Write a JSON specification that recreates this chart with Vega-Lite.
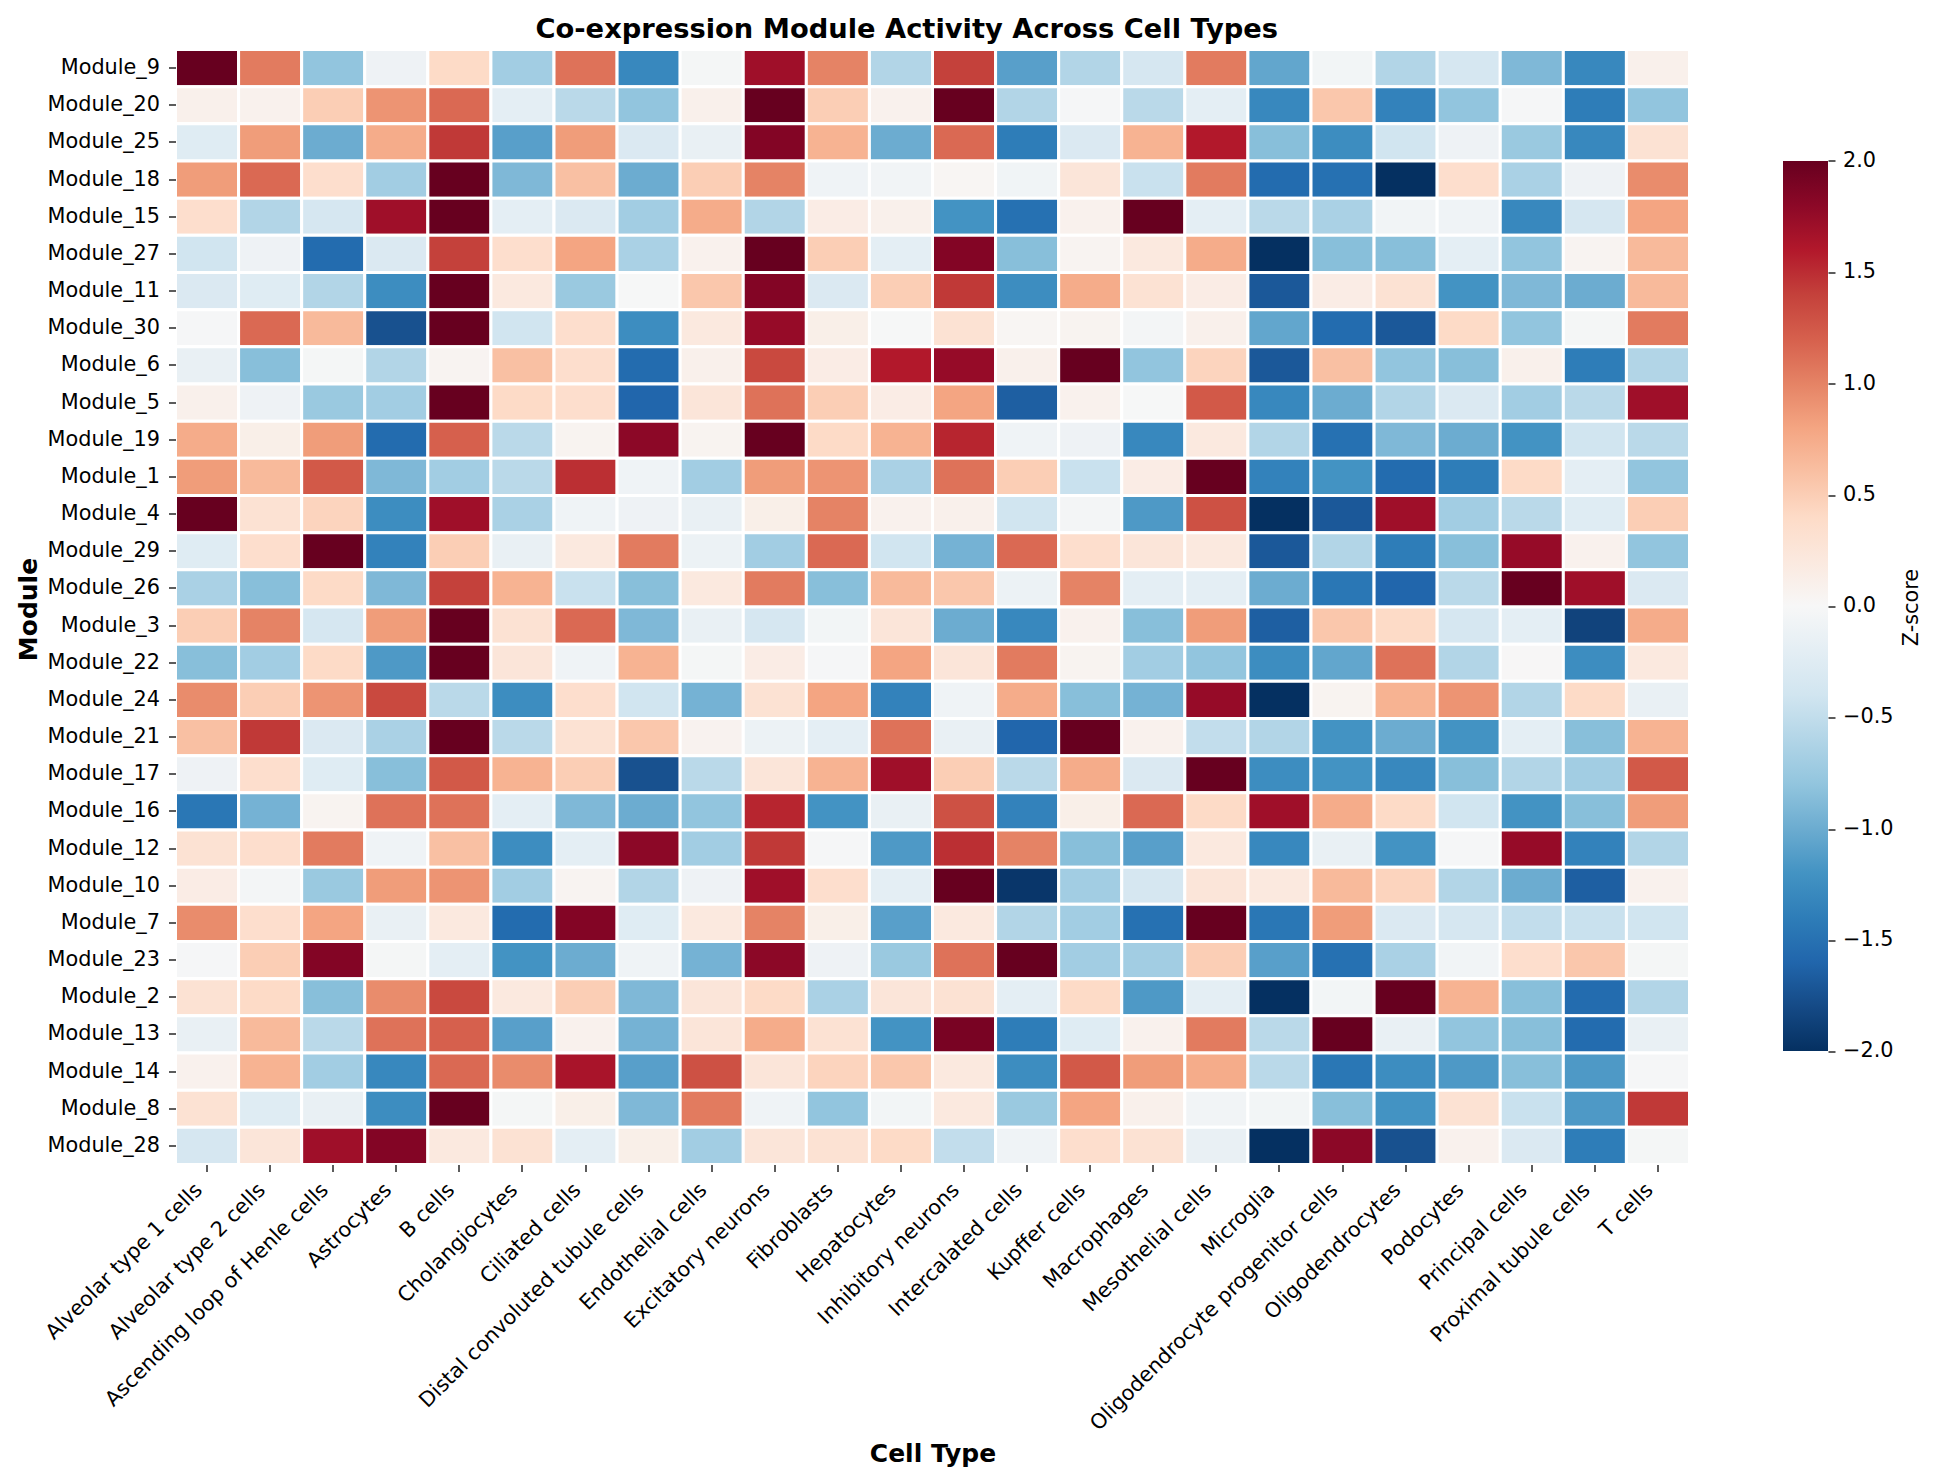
{"$schema":"https://vega.github.io/schema/vega-lite/v6.json","width":1514,"height":1115,"autosize":"none","padding":{"left":175.5,"top":49.5,"right":246.5,"bottom":316.5},"background":"white","config":{"font":"DejaVu Sans","view":{"stroke":null}},"title":{"text":"Co-expression Module Activity Across Cell Types","font":"DejaVu Sans","fontSize":27.3,"fontWeight":"bold","color":"black","anchor":"start","frame":"group","dx":360,"offset":5},
"data":{"values":[
{"m":"Module_9","c":"Alveolar type 1 cells","z":2.0},{"m":"Module_9","c":"Alveolar type 2 cells","z":1.05},{"m":"Module_9","c":"Ascending loop of Henle cells","z":-0.8},{"m":"Module_9","c":"Astrocytes","z":-0.1},{"m":"Module_9","c":"B cells","z":0.4},{"m":"Module_9","c":"Cholangiocytes","z":-0.7},{"m":"Module_9","c":"Ciliated cells","z":1.1},{"m":"Module_9","c":"Distal convoluted tubule cells","z":-1.3},{"m":"Module_9","c":"Endothelial cells","z":-0.03},{"m":"Module_9","c":"Excitatory neurons","z":1.7},{"m":"Module_9","c":"Fibroblasts","z":1.0},{"m":"Module_9","c":"Hepatocytes","z":-0.6},{"m":"Module_9","c":"Inhibitory neurons","z":1.4},{"m":"Module_9","c":"Intercalated cells","z":-1.1},{"m":"Module_9","c":"Kupffer cells","z":-0.6},{"m":"Module_9","c":"Macrophages","z":-0.35},{"m":"Module_9","c":"Mesothelial cells","z":1.05},{"m":"Module_9","c":"Microglia","z":-1.05},{"m":"Module_9","c":"Oligodendrocyte progenitor cells","z":-0.05},{"m":"Module_9","c":"Oligodendrocytes","z":-0.6},{"m":"Module_9","c":"Podocytes","z":-0.35},{"m":"Module_9","c":"Principal cells","z":-0.9},{"m":"Module_9","c":"Proximal tubule cells","z":-1.3},{"m":"Module_9","c":"T cells","z":0.1},
{"m":"Module_20","c":"Alveolar type 1 cells","z":0.1},{"m":"Module_20","c":"Alveolar type 2 cells","z":0.08},{"m":"Module_20","c":"Ascending loop of Henle cells","z":0.5},{"m":"Module_20","c":"Astrocytes","z":0.9},{"m":"Module_20","c":"B cells","z":1.15},{"m":"Module_20","c":"Cholangiocytes","z":-0.2},{"m":"Module_20","c":"Ciliated cells","z":-0.55},{"m":"Module_20","c":"Distal convoluted tubule cells","z":-0.8},{"m":"Module_20","c":"Endothelial cells","z":0.1},{"m":"Module_20","c":"Excitatory neurons","z":2.0},{"m":"Module_20","c":"Fibroblasts","z":0.5},{"m":"Module_20","c":"Hepatocytes","z":0.08},{"m":"Module_20","c":"Inhibitory neurons","z":2.0},{"m":"Module_20","c":"Intercalated cells","z":-0.6},{"m":"Module_20","c":"Kupffer cells","z":-0.02},{"m":"Module_20","c":"Macrophages","z":-0.55},{"m":"Module_20","c":"Mesothelial cells","z":-0.2},{"m":"Module_20","c":"Microglia","z":-1.3},{"m":"Module_20","c":"Oligodendrocyte progenitor cells","z":0.55},{"m":"Module_20","c":"Oligodendrocytes","z":-1.35},{"m":"Module_20","c":"Podocytes","z":-0.8},{"m":"Module_20","c":"Principal cells","z":-0.02},{"m":"Module_20","c":"Proximal tubule cells","z":-1.4},{"m":"Module_20","c":"T cells","z":-0.8},
{"m":"Module_25","c":"Alveolar type 1 cells","z":-0.25},{"m":"Module_25","c":"Alveolar type 2 cells","z":0.85},{"m":"Module_25","c":"Ascending loop of Henle cells","z":-1.0},{"m":"Module_25","c":"Astrocytes","z":0.75},{"m":"Module_25","c":"B cells","z":1.45},{"m":"Module_25","c":"Cholangiocytes","z":-1.1},{"m":"Module_25","c":"Ciliated cells","z":0.85},{"m":"Module_25","c":"Distal convoluted tubule cells","z":-0.3},{"m":"Module_25","c":"Endothelial cells","z":-0.15},{"m":"Module_25","c":"Excitatory neurons","z":1.85},{"m":"Module_25","c":"Fibroblasts","z":0.7},{"m":"Module_25","c":"Hepatocytes","z":-1.0},{"m":"Module_25","c":"Inhibitory neurons","z":1.15},{"m":"Module_25","c":"Intercalated cells","z":-1.4},{"m":"Module_25","c":"Kupffer cells","z":-0.3},{"m":"Module_25","c":"Macrophages","z":0.7},{"m":"Module_25","c":"Mesothelial cells","z":1.6},{"m":"Module_25","c":"Microglia","z":-0.85},{"m":"Module_25","c":"Oligodendrocyte progenitor cells","z":-1.25},{"m":"Module_25","c":"Oligodendrocytes","z":-0.4},{"m":"Module_25","c":"Podocytes","z":-0.1},{"m":"Module_25","c":"Principal cells","z":-0.75},{"m":"Module_25","c":"Proximal tubule cells","z":-1.3},{"m":"Module_25","c":"T cells","z":0.3},
{"m":"Module_18","c":"Alveolar type 1 cells","z":0.85},{"m":"Module_18","c":"Alveolar type 2 cells","z":1.15},{"m":"Module_18","c":"Ascending loop of Henle cells","z":0.35},{"m":"Module_18","c":"Astrocytes","z":-0.7},{"m":"Module_18","c":"B cells","z":2.0},{"m":"Module_18","c":"Cholangiocytes","z":-0.9},{"m":"Module_18","c":"Ciliated cells","z":0.6},{"m":"Module_18","c":"Distal convoluted tubule cells","z":-1.0},{"m":"Module_18","c":"Endothelial cells","z":0.5},{"m":"Module_18","c":"Excitatory neurons","z":1.0},{"m":"Module_18","c":"Fibroblasts","z":-0.08},{"m":"Module_18","c":"Hepatocytes","z":-0.06},{"m":"Module_18","c":"Inhibitory neurons","z":0.03},{"m":"Module_18","c":"Intercalated cells","z":-0.07},{"m":"Module_18","c":"Kupffer cells","z":0.25},{"m":"Module_18","c":"Macrophages","z":-0.45},{"m":"Module_18","c":"Mesothelial cells","z":1.05},{"m":"Module_18","c":"Microglia","z":-1.55},{"m":"Module_18","c":"Oligodendrocyte progenitor cells","z":-1.5},{"m":"Module_18","c":"Oligodendrocytes","z":-2.0},{"m":"Module_18","c":"Podocytes","z":0.35},{"m":"Module_18","c":"Principal cells","z":-0.65},{"m":"Module_18","c":"Proximal tubule cells","z":-0.1},{"m":"Module_18","c":"T cells","z":0.95},
{"m":"Module_15","c":"Alveolar type 1 cells","z":0.35},{"m":"Module_15","c":"Alveolar type 2 cells","z":-0.6},{"m":"Module_15","c":"Ascending loop of Henle cells","z":-0.35},{"m":"Module_15","c":"Astrocytes","z":1.7},{"m":"Module_15","c":"B cells","z":2.0},{"m":"Module_15","c":"Cholangiocytes","z":-0.2},{"m":"Module_15","c":"Ciliated cells","z":-0.3},{"m":"Module_15","c":"Distal convoluted tubule cells","z":-0.7},{"m":"Module_15","c":"Endothelial cells","z":0.75},{"m":"Module_15","c":"Excitatory neurons","z":-0.6},{"m":"Module_15","c":"Fibroblasts","z":0.15},{"m":"Module_15","c":"Hepatocytes","z":0.1},{"m":"Module_15","c":"Inhibitory neurons","z":-1.2},{"m":"Module_15","c":"Intercalated cells","z":-1.5},{"m":"Module_15","c":"Kupffer cells","z":0.08},{"m":"Module_15","c":"Macrophages","z":2.0},{"m":"Module_15","c":"Mesothelial cells","z":-0.2},{"m":"Module_15","c":"Microglia","z":-0.55},{"m":"Module_15","c":"Oligodendrocyte progenitor cells","z":-0.65},{"m":"Module_15","c":"Oligodendrocytes","z":-0.06},{"m":"Module_15","c":"Podocytes","z":-0.08},{"m":"Module_15","c":"Principal cells","z":-1.3},{"m":"Module_15","c":"Proximal tubule cells","z":-0.35},{"m":"Module_15","c":"T cells","z":0.8},
{"m":"Module_27","c":"Alveolar type 1 cells","z":-0.4},{"m":"Module_27","c":"Alveolar type 2 cells","z":-0.1},{"m":"Module_27","c":"Ascending loop of Henle cells","z":-1.55},{"m":"Module_27","c":"Astrocytes","z":-0.3},{"m":"Module_27","c":"B cells","z":1.4},{"m":"Module_27","c":"Cholangiocytes","z":0.35},{"m":"Module_27","c":"Ciliated cells","z":0.8},{"m":"Module_27","c":"Distal convoluted tubule cells","z":-0.65},{"m":"Module_27","c":"Endothelial cells","z":0.08},{"m":"Module_27","c":"Excitatory neurons","z":2.0},{"m":"Module_27","c":"Fibroblasts","z":0.5},{"m":"Module_27","c":"Hepatocytes","z":-0.2},{"m":"Module_27","c":"Inhibitory neurons","z":1.85},{"m":"Module_27","c":"Intercalated cells","z":-0.85},{"m":"Module_27","c":"Kupffer cells","z":0.05},{"m":"Module_27","c":"Macrophages","z":0.2},{"m":"Module_27","c":"Mesothelial cells","z":0.75},{"m":"Module_27","c":"Microglia","z":-2.0},{"m":"Module_27","c":"Oligodendrocyte progenitor cells","z":-0.85},{"m":"Module_27","c":"Oligodendrocytes","z":-0.85},{"m":"Module_27","c":"Podocytes","z":-0.2},{"m":"Module_27","c":"Principal cells","z":-0.8},{"m":"Module_27","c":"Proximal tubule cells","z":0.05},{"m":"Module_27","c":"T cells","z":0.65},
{"m":"Module_11","c":"Alveolar type 1 cells","z":-0.3},{"m":"Module_11","c":"Alveolar type 2 cells","z":-0.25},{"m":"Module_11","c":"Ascending loop of Henle cells","z":-0.6},{"m":"Module_11","c":"Astrocytes","z":-1.25},{"m":"Module_11","c":"B cells","z":2.0},{"m":"Module_11","c":"Cholangiocytes","z":0.2},{"m":"Module_11","c":"Ciliated cells","z":-0.75},{"m":"Module_11","c":"Distal convoluted tubule cells","z":-0.01},{"m":"Module_11","c":"Endothelial cells","z":0.55},{"m":"Module_11","c":"Excitatory neurons","z":1.85},{"m":"Module_11","c":"Fibroblasts","z":-0.3},{"m":"Module_11","c":"Hepatocytes","z":0.5},{"m":"Module_11","c":"Inhibitory neurons","z":1.45},{"m":"Module_11","c":"Intercalated cells","z":-1.25},{"m":"Module_11","c":"Kupffer cells","z":0.75},{"m":"Module_11","c":"Macrophages","z":0.3},{"m":"Module_11","c":"Mesothelial cells","z":0.15},{"m":"Module_11","c":"Microglia","z":-1.7},{"m":"Module_11","c":"Oligodendrocyte progenitor cells","z":0.15},{"m":"Module_11","c":"Oligodendrocytes","z":0.3},{"m":"Module_11","c":"Podocytes","z":-1.2},{"m":"Module_11","c":"Principal cells","z":-0.9},{"m":"Module_11","c":"Proximal tubule cells","z":-1.0},{"m":"Module_11","c":"T cells","z":0.65},
{"m":"Module_30","c":"Alveolar type 1 cells","z":-0.02},{"m":"Module_30","c":"Alveolar type 2 cells","z":1.15},{"m":"Module_30","c":"Ascending loop of Henle cells","z":0.65},{"m":"Module_30","c":"Astrocytes","z":-1.75},{"m":"Module_30","c":"B cells","z":2.0},{"m":"Module_30","c":"Cholangiocytes","z":-0.4},{"m":"Module_30","c":"Ciliated cells","z":0.35},{"m":"Module_30","c":"Distal convoluted tubule cells","z":-1.25},{"m":"Module_30","c":"Endothelial cells","z":0.2},{"m":"Module_30","c":"Excitatory neurons","z":1.75},{"m":"Module_30","c":"Fibroblasts","z":0.12},{"m":"Module_30","c":"Hepatocytes","z":-0.01},{"m":"Module_30","c":"Inhibitory neurons","z":0.3},{"m":"Module_30","c":"Intercalated cells","z":0.03},{"m":"Module_30","c":"Kupffer cells","z":0.06},{"m":"Module_30","c":"Macrophages","z":-0.04},{"m":"Module_30","c":"Mesothelial cells","z":0.1},{"m":"Module_30","c":"Microglia","z":-1.05},{"m":"Module_30","c":"Oligodendrocyte progenitor cells","z":-1.55},{"m":"Module_30","c":"Oligodendrocytes","z":-1.7},{"m":"Module_30","c":"Podocytes","z":0.4},{"m":"Module_30","c":"Principal cells","z":-0.8},{"m":"Module_30","c":"Proximal tubule cells","z":-0.03},{"m":"Module_30","c":"T cells","z":1.05},
{"m":"Module_6","c":"Alveolar type 1 cells","z":-0.15},{"m":"Module_6","c":"Alveolar type 2 cells","z":-0.85},{"m":"Module_6","c":"Ascending loop of Henle cells","z":-0.03},{"m":"Module_6","c":"Astrocytes","z":-0.6},{"m":"Module_6","c":"B cells","z":0.05},{"m":"Module_6","c":"Cholangiocytes","z":0.6},{"m":"Module_6","c":"Ciliated cells","z":0.35},{"m":"Module_6","c":"Distal convoluted tubule cells","z":-1.55},{"m":"Module_6","c":"Endothelial cells","z":0.1},{"m":"Module_6","c":"Excitatory neurons","z":1.35},{"m":"Module_6","c":"Fibroblasts","z":0.15},{"m":"Module_6","c":"Hepatocytes","z":1.6},{"m":"Module_6","c":"Inhibitory neurons","z":1.75},{"m":"Module_6","c":"Intercalated cells","z":0.1},{"m":"Module_6","c":"Kupffer cells","z":2.0},{"m":"Module_6","c":"Macrophages","z":-0.8},{"m":"Module_6","c":"Mesothelial cells","z":0.45},{"m":"Module_6","c":"Microglia","z":-1.7},{"m":"Module_6","c":"Oligodendrocyte progenitor cells","z":0.6},{"m":"Module_6","c":"Oligodendrocytes","z":-0.8},{"m":"Module_6","c":"Podocytes","z":-0.85},{"m":"Module_6","c":"Principal cells","z":0.1},{"m":"Module_6","c":"Proximal tubule cells","z":-1.4},{"m":"Module_6","c":"T cells","z":-0.6},
{"m":"Module_5","c":"Alveolar type 1 cells","z":0.1},{"m":"Module_5","c":"Alveolar type 2 cells","z":-0.1},{"m":"Module_5","c":"Ascending loop of Henle cells","z":-0.75},{"m":"Module_5","c":"Astrocytes","z":-0.7},{"m":"Module_5","c":"B cells","z":2.0},{"m":"Module_5","c":"Cholangiocytes","z":0.4},{"m":"Module_5","c":"Ciliated cells","z":0.35},{"m":"Module_5","c":"Distal convoluted tubule cells","z":-1.6},{"m":"Module_5","c":"Endothelial cells","z":0.25},{"m":"Module_5","c":"Excitatory neurons","z":1.1},{"m":"Module_5","c":"Fibroblasts","z":0.5},{"m":"Module_5","c":"Hepatocytes","z":0.15},{"m":"Module_5","c":"Inhibitory neurons","z":0.8},{"m":"Module_5","c":"Intercalated cells","z":-1.65},{"m":"Module_5","c":"Kupffer cells","z":0.08},{"m":"Module_5","c":"Macrophages","z":-0.01},{"m":"Module_5","c":"Mesothelial cells","z":1.25},{"m":"Module_5","c":"Microglia","z":-1.3},{"m":"Module_5","c":"Oligodendrocyte progenitor cells","z":-1.0},{"m":"Module_5","c":"Oligodendrocytes","z":-0.6},{"m":"Module_5","c":"Podocytes","z":-0.3},{"m":"Module_5","c":"Principal cells","z":-0.7},{"m":"Module_5","c":"Proximal tubule cells","z":-0.55},{"m":"Module_5","c":"T cells","z":1.7},
{"m":"Module_19","c":"Alveolar type 1 cells","z":0.75},{"m":"Module_19","c":"Alveolar type 2 cells","z":0.12},{"m":"Module_19","c":"Ascending loop of Henle cells","z":0.85},{"m":"Module_19","c":"Astrocytes","z":-1.55},{"m":"Module_19","c":"B cells","z":1.2},{"m":"Module_19","c":"Cholangiocytes","z":-0.55},{"m":"Module_19","c":"Ciliated cells","z":0.06},{"m":"Module_19","c":"Distal convoluted tubule cells","z":1.8},{"m":"Module_19","c":"Endothelial cells","z":0.06},{"m":"Module_19","c":"Excitatory neurons","z":2.0},{"m":"Module_19","c":"Fibroblasts","z":0.4},{"m":"Module_19","c":"Hepatocytes","z":0.7},{"m":"Module_19","c":"Inhibitory neurons","z":1.55},{"m":"Module_19","c":"Intercalated cells","z":-0.08},{"m":"Module_19","c":"Kupffer cells","z":-0.1},{"m":"Module_19","c":"Macrophages","z":-1.3},{"m":"Module_19","c":"Mesothelial cells","z":0.2},{"m":"Module_19","c":"Microglia","z":-0.6},{"m":"Module_19","c":"Oligodendrocyte progenitor cells","z":-1.5},{"m":"Module_19","c":"Oligodendrocytes","z":-0.9},{"m":"Module_19","c":"Podocytes","z":-1.0},{"m":"Module_19","c":"Principal cells","z":-1.2},{"m":"Module_19","c":"Proximal tubule cells","z":-0.4},{"m":"Module_19","c":"T cells","z":-0.55},
{"m":"Module_1","c":"Alveolar type 1 cells","z":0.85},{"m":"Module_1","c":"Alveolar type 2 cells","z":0.65},{"m":"Module_1","c":"Ascending loop of Henle cells","z":1.25},{"m":"Module_1","c":"Astrocytes","z":-0.9},{"m":"Module_1","c":"B cells","z":-0.7},{"m":"Module_1","c":"Cholangiocytes","z":-0.55},{"m":"Module_1","c":"Ciliated cells","z":1.5},{"m":"Module_1","c":"Distal convoluted tubule cells","z":-0.08},{"m":"Module_1","c":"Endothelial cells","z":-0.7},{"m":"Module_1","c":"Excitatory neurons","z":0.85},{"m":"Module_1","c":"Fibroblasts","z":0.9},{"m":"Module_1","c":"Hepatocytes","z":-0.65},{"m":"Module_1","c":"Inhibitory neurons","z":1.1},{"m":"Module_1","c":"Intercalated cells","z":0.5},{"m":"Module_1","c":"Kupffer cells","z":-0.45},{"m":"Module_1","c":"Macrophages","z":0.15},{"m":"Module_1","c":"Mesothelial cells","z":2.0},{"m":"Module_1","c":"Microglia","z":-1.35},{"m":"Module_1","c":"Oligodendrocyte progenitor cells","z":-1.2},{"m":"Module_1","c":"Oligodendrocytes","z":-1.55},{"m":"Module_1","c":"Podocytes","z":-1.4},{"m":"Module_1","c":"Principal cells","z":0.4},{"m":"Module_1","c":"Proximal tubule cells","z":-0.2},{"m":"Module_1","c":"T cells","z":-0.8},
{"m":"Module_4","c":"Alveolar type 1 cells","z":2.0},{"m":"Module_4","c":"Alveolar type 2 cells","z":0.3},{"m":"Module_4","c":"Ascending loop of Henle cells","z":0.45},{"m":"Module_4","c":"Astrocytes","z":-1.25},{"m":"Module_4","c":"B cells","z":1.7},{"m":"Module_4","c":"Cholangiocytes","z":-0.65},{"m":"Module_4","c":"Ciliated cells","z":-0.08},{"m":"Module_4","c":"Distal convoluted tubule cells","z":-0.1},{"m":"Module_4","c":"Endothelial cells","z":-0.15},{"m":"Module_4","c":"Excitatory neurons","z":0.12},{"m":"Module_4","c":"Fibroblasts","z":1.0},{"m":"Module_4","c":"Hepatocytes","z":0.08},{"m":"Module_4","c":"Inhibitory neurons","z":0.1},{"m":"Module_4","c":"Intercalated cells","z":-0.4},{"m":"Module_4","c":"Kupffer cells","z":-0.04},{"m":"Module_4","c":"Macrophages","z":-1.15},{"m":"Module_4","c":"Mesothelial cells","z":1.3},{"m":"Module_4","c":"Microglia","z":-2.0},{"m":"Module_4","c":"Oligodendrocyte progenitor cells","z":-1.7},{"m":"Module_4","c":"Oligodendrocytes","z":1.7},{"m":"Module_4","c":"Podocytes","z":-0.7},{"m":"Module_4","c":"Principal cells","z":-0.55},{"m":"Module_4","c":"Proximal tubule cells","z":-0.25},{"m":"Module_4","c":"T cells","z":0.5},
{"m":"Module_29","c":"Alveolar type 1 cells","z":-0.25},{"m":"Module_29","c":"Alveolar type 2 cells","z":0.35},{"m":"Module_29","c":"Ascending loop of Henle cells","z":2.0},{"m":"Module_29","c":"Astrocytes","z":-1.35},{"m":"Module_29","c":"B cells","z":0.5},{"m":"Module_29","c":"Cholangiocytes","z":-0.15},{"m":"Module_29","c":"Ciliated cells","z":0.2},{"m":"Module_29","c":"Distal convoluted tubule cells","z":1.05},{"m":"Module_29","c":"Endothelial cells","z":-0.12},{"m":"Module_29","c":"Excitatory neurons","z":-0.7},{"m":"Module_29","c":"Fibroblasts","z":1.15},{"m":"Module_29","c":"Hepatocytes","z":-0.4},{"m":"Module_29","c":"Inhibitory neurons","z":-0.95},{"m":"Module_29","c":"Intercalated cells","z":1.15},{"m":"Module_29","c":"Kupffer cells","z":0.35},{"m":"Module_29","c":"Macrophages","z":0.25},{"m":"Module_29","c":"Mesothelial cells","z":0.2},{"m":"Module_29","c":"Microglia","z":-1.7},{"m":"Module_29","c":"Oligodendrocyte progenitor cells","z":-0.6},{"m":"Module_29","c":"Oligodendrocytes","z":-1.4},{"m":"Module_29","c":"Podocytes","z":-0.85},{"m":"Module_29","c":"Principal cells","z":1.75},{"m":"Module_29","c":"Proximal tubule cells","z":0.08},{"m":"Module_29","c":"T cells","z":-0.8},
{"m":"Module_26","c":"Alveolar type 1 cells","z":-0.65},{"m":"Module_26","c":"Alveolar type 2 cells","z":-0.85},{"m":"Module_26","c":"Ascending loop of Henle cells","z":0.4},{"m":"Module_26","c":"Astrocytes","z":-0.9},{"m":"Module_26","c":"B cells","z":1.4},{"m":"Module_26","c":"Cholangiocytes","z":0.7},{"m":"Module_26","c":"Ciliated cells","z":-0.45},{"m":"Module_26","c":"Distal convoluted tubule cells","z":-0.85},{"m":"Module_26","c":"Endothelial cells","z":0.2},{"m":"Module_26","c":"Excitatory neurons","z":1.05},{"m":"Module_26","c":"Fibroblasts","z":-0.85},{"m":"Module_26","c":"Hepatocytes","z":0.65},{"m":"Module_26","c":"Inhibitory neurons","z":0.55},{"m":"Module_26","c":"Intercalated cells","z":-0.12},{"m":"Module_26","c":"Kupffer cells","z":1.0},{"m":"Module_26","c":"Macrophages","z":-0.2},{"m":"Module_26","c":"Mesothelial cells","z":-0.2},{"m":"Module_26","c":"Microglia","z":-1.0},{"m":"Module_26","c":"Oligodendrocyte progenitor cells","z":-1.45},{"m":"Module_26","c":"Oligodendrocytes","z":-1.6},{"m":"Module_26","c":"Podocytes","z":-0.55},{"m":"Module_26","c":"Principal cells","z":2.0},{"m":"Module_26","c":"Proximal tubule cells","z":1.7},{"m":"Module_26","c":"T cells","z":-0.3},
{"m":"Module_3","c":"Alveolar type 1 cells","z":0.5},{"m":"Module_3","c":"Alveolar type 2 cells","z":1.0},{"m":"Module_3","c":"Ascending loop of Henle cells","z":-0.35},{"m":"Module_3","c":"Astrocytes","z":0.85},{"m":"Module_3","c":"B cells","z":2.0},{"m":"Module_3","c":"Cholangiocytes","z":0.3},{"m":"Module_3","c":"Ciliated cells","z":1.15},{"m":"Module_3","c":"Distal convoluted tubule cells","z":-0.9},{"m":"Module_3","c":"Endothelial cells","z":-0.15},{"m":"Module_3","c":"Excitatory neurons","z":-0.35},{"m":"Module_3","c":"Fibroblasts","z":-0.05},{"m":"Module_3","c":"Hepatocytes","z":0.25},{"m":"Module_3","c":"Inhibitory neurons","z":-1.0},{"m":"Module_3","c":"Intercalated cells","z":-1.3},{"m":"Module_3","c":"Kupffer cells","z":0.08},{"m":"Module_3","c":"Macrophages","z":-0.85},{"m":"Module_3","c":"Mesothelial cells","z":0.85},{"m":"Module_3","c":"Microglia","z":-1.65},{"m":"Module_3","c":"Oligodendrocyte progenitor cells","z":0.55},{"m":"Module_3","c":"Oligodendrocytes","z":0.4},{"m":"Module_3","c":"Podocytes","z":-0.35},{"m":"Module_3","c":"Principal cells","z":-0.2},{"m":"Module_3","c":"Proximal tubule cells","z":-1.85},{"m":"Module_3","c":"T cells","z":0.75},
{"m":"Module_22","c":"Alveolar type 1 cells","z":-0.85},{"m":"Module_22","c":"Alveolar type 2 cells","z":-0.7},{"m":"Module_22","c":"Ascending loop of Henle cells","z":0.4},{"m":"Module_22","c":"Astrocytes","z":-1.15},{"m":"Module_22","c":"B cells","z":2.0},{"m":"Module_22","c":"Cholangiocytes","z":0.25},{"m":"Module_22","c":"Ciliated cells","z":-0.08},{"m":"Module_22","c":"Distal convoluted tubule cells","z":0.7},{"m":"Module_22","c":"Endothelial cells","z":-0.03},{"m":"Module_22","c":"Excitatory neurons","z":0.15},{"m":"Module_22","c":"Fibroblasts","z":-0.02},{"m":"Module_22","c":"Hepatocytes","z":0.8},{"m":"Module_22","c":"Inhibitory neurons","z":0.25},{"m":"Module_22","c":"Intercalated cells","z":1.05},{"m":"Module_22","c":"Kupffer cells","z":0.06},{"m":"Module_22","c":"Macrophages","z":-0.7},{"m":"Module_22","c":"Mesothelial cells","z":-0.8},{"m":"Module_22","c":"Microglia","z":-1.25},{"m":"Module_22","c":"Oligodendrocyte progenitor cells","z":-1.05},{"m":"Module_22","c":"Oligodendrocytes","z":1.1},{"m":"Module_22","c":"Podocytes","z":-0.6},{"m":"Module_22","c":"Principal cells","z":0.01},{"m":"Module_22","c":"Proximal tubule cells","z":-1.25},{"m":"Module_22","c":"T cells","z":0.2},
{"m":"Module_24","c":"Alveolar type 1 cells","z":0.95},{"m":"Module_24","c":"Alveolar type 2 cells","z":0.5},{"m":"Module_24","c":"Ascending loop of Henle cells","z":0.9},{"m":"Module_24","c":"Astrocytes","z":1.35},{"m":"Module_24","c":"B cells","z":-0.55},{"m":"Module_24","c":"Cholangiocytes","z":-1.25},{"m":"Module_24","c":"Ciliated cells","z":0.35},{"m":"Module_24","c":"Distal convoluted tubule cells","z":-0.4},{"m":"Module_24","c":"Endothelial cells","z":-0.95},{"m":"Module_24","c":"Excitatory neurons","z":0.3},{"m":"Module_24","c":"Fibroblasts","z":0.8},{"m":"Module_24","c":"Hepatocytes","z":-1.35},{"m":"Module_24","c":"Inhibitory neurons","z":-0.08},{"m":"Module_24","c":"Intercalated cells","z":0.75},{"m":"Module_24","c":"Kupffer cells","z":-0.85},{"m":"Module_24","c":"Macrophages","z":-0.95},{"m":"Module_24","c":"Mesothelial cells","z":1.75},{"m":"Module_24","c":"Microglia","z":-2.0},{"m":"Module_24","c":"Oligodendrocyte progenitor cells","z":0.06},{"m":"Module_24","c":"Oligodendrocytes","z":0.7},{"m":"Module_24","c":"Podocytes","z":0.9},{"m":"Module_24","c":"Principal cells","z":-0.6},{"m":"Module_24","c":"Proximal tubule cells","z":0.4},{"m":"Module_24","c":"T cells","z":-0.15},
{"m":"Module_21","c":"Alveolar type 1 cells","z":0.6},{"m":"Module_21","c":"Alveolar type 2 cells","z":1.45},{"m":"Module_21","c":"Ascending loop of Henle cells","z":-0.3},{"m":"Module_21","c":"Astrocytes","z":-0.65},{"m":"Module_21","c":"B cells","z":2.0},{"m":"Module_21","c":"Cholangiocytes","z":-0.55},{"m":"Module_21","c":"Ciliated cells","z":0.3},{"m":"Module_21","c":"Distal convoluted tubule cells","z":0.55},{"m":"Module_21","c":"Endothelial cells","z":0.07},{"m":"Module_21","c":"Excitatory neurons","z":-0.12},{"m":"Module_21","c":"Fibroblasts","z":-0.2},{"m":"Module_21","c":"Hepatocytes","z":1.1},{"m":"Module_21","c":"Inhibitory neurons","z":-0.15},{"m":"Module_21","c":"Intercalated cells","z":-1.6},{"m":"Module_21","c":"Kupffer cells","z":2.0},{"m":"Module_21","c":"Macrophages","z":0.08},{"m":"Module_21","c":"Mesothelial cells","z":-0.5},{"m":"Module_21","c":"Microglia","z":-0.6},{"m":"Module_21","c":"Oligodendrocyte progenitor cells","z":-1.2},{"m":"Module_21","c":"Oligodendrocytes","z":-1.0},{"m":"Module_21","c":"Podocytes","z":-1.2},{"m":"Module_21","c":"Principal cells","z":-0.2},{"m":"Module_21","c":"Proximal tubule cells","z":-0.85},{"m":"Module_21","c":"T cells","z":0.7},
{"m":"Module_17","c":"Alveolar type 1 cells","z":-0.1},{"m":"Module_17","c":"Alveolar type 2 cells","z":0.35},{"m":"Module_17","c":"Ascending loop of Henle cells","z":-0.25},{"m":"Module_17","c":"Astrocytes","z":-0.85},{"m":"Module_17","c":"B cells","z":1.25},{"m":"Module_17","c":"Cholangiocytes","z":0.7},{"m":"Module_17","c":"Ciliated cells","z":0.5},{"m":"Module_17","c":"Distal convoluted tubule cells","z":-1.75},{"m":"Module_17","c":"Endothelial cells","z":-0.55},{"m":"Module_17","c":"Excitatory neurons","z":0.25},{"m":"Module_17","c":"Fibroblasts","z":0.7},{"m":"Module_17","c":"Hepatocytes","z":1.7},{"m":"Module_17","c":"Inhibitory neurons","z":0.5},{"m":"Module_17","c":"Intercalated cells","z":-0.55},{"m":"Module_17","c":"Kupffer cells","z":0.75},{"m":"Module_17","c":"Macrophages","z":-0.3},{"m":"Module_17","c":"Mesothelial cells","z":2.0},{"m":"Module_17","c":"Microglia","z":-1.25},{"m":"Module_17","c":"Oligodendrocyte progenitor cells","z":-1.2},{"m":"Module_17","c":"Oligodendrocytes","z":-1.3},{"m":"Module_17","c":"Podocytes","z":-0.85},{"m":"Module_17","c":"Principal cells","z":-0.6},{"m":"Module_17","c":"Proximal tubule cells","z":-0.7},{"m":"Module_17","c":"T cells","z":1.25},
{"m":"Module_16","c":"Alveolar type 1 cells","z":-1.45},{"m":"Module_16","c":"Alveolar type 2 cells","z":-0.95},{"m":"Module_16","c":"Ascending loop of Henle cells","z":0.06},{"m":"Module_16","c":"Astrocytes","z":1.1},{"m":"Module_16","c":"B cells","z":1.1},{"m":"Module_16","c":"Cholangiocytes","z":-0.2},{"m":"Module_16","c":"Ciliated cells","z":-0.9},{"m":"Module_16","c":"Distal convoluted tubule cells","z":-1.0},{"m":"Module_16","c":"Endothelial cells","z":-0.8},{"m":"Module_16","c":"Excitatory neurons","z":1.55},{"m":"Module_16","c":"Fibroblasts","z":-1.2},{"m":"Module_16","c":"Hepatocytes","z":-0.15},{"m":"Module_16","c":"Inhibitory neurons","z":1.3},{"m":"Module_16","c":"Intercalated cells","z":-1.35},{"m":"Module_16","c":"Kupffer cells","z":0.12},{"m":"Module_16","c":"Macrophages","z":1.15},{"m":"Module_16","c":"Mesothelial cells","z":0.4},{"m":"Module_16","c":"Microglia","z":1.7},{"m":"Module_16","c":"Oligodendrocyte progenitor cells","z":0.75},{"m":"Module_16","c":"Oligodendrocytes","z":0.4},{"m":"Module_16","c":"Podocytes","z":-0.4},{"m":"Module_16","c":"Principal cells","z":-1.2},{"m":"Module_16","c":"Proximal tubule cells","z":-0.85},{"m":"Module_16","c":"T cells","z":0.85},
{"m":"Module_12","c":"Alveolar type 1 cells","z":0.3},{"m":"Module_12","c":"Alveolar type 2 cells","z":0.35},{"m":"Module_12","c":"Ascending loop of Henle cells","z":1.05},{"m":"Module_12","c":"Astrocytes","z":-0.08},{"m":"Module_12","c":"B cells","z":0.6},{"m":"Module_12","c":"Cholangiocytes","z":-1.25},{"m":"Module_12","c":"Ciliated cells","z":-0.2},{"m":"Module_12","c":"Distal convoluted tubule cells","z":1.8},{"m":"Module_12","c":"Endothelial cells","z":-0.7},{"m":"Module_12","c":"Excitatory neurons","z":1.45},{"m":"Module_12","c":"Fibroblasts","z":-0.02},{"m":"Module_12","c":"Hepatocytes","z":-1.15},{"m":"Module_12","c":"Inhibitory neurons","z":1.5},{"m":"Module_12","c":"Intercalated cells","z":1.0},{"m":"Module_12","c":"Kupffer cells","z":-0.85},{"m":"Module_12","c":"Macrophages","z":-1.1},{"m":"Module_12","c":"Mesothelial cells","z":0.2},{"m":"Module_12","c":"Microglia","z":-1.3},{"m":"Module_12","c":"Oligodendrocyte progenitor cells","z":-0.15},{"m":"Module_12","c":"Oligodendrocytes","z":-1.2},{"m":"Module_12","c":"Podocytes","z":-0.02},{"m":"Module_12","c":"Principal cells","z":1.75},{"m":"Module_12","c":"Proximal tubule cells","z":-1.35},{"m":"Module_12","c":"T cells","z":-0.6},
{"m":"Module_10","c":"Alveolar type 1 cells","z":0.15},{"m":"Module_10","c":"Alveolar type 2 cells","z":-0.04},{"m":"Module_10","c":"Ascending loop of Henle cells","z":-0.75},{"m":"Module_10","c":"Astrocytes","z":0.85},{"m":"Module_10","c":"B cells","z":0.9},{"m":"Module_10","c":"Cholangiocytes","z":-0.7},{"m":"Module_10","c":"Ciliated cells","z":0.05},{"m":"Module_10","c":"Distal convoluted tubule cells","z":-0.6},{"m":"Module_10","c":"Endothelial cells","z":-0.1},{"m":"Module_10","c":"Excitatory neurons","z":1.7},{"m":"Module_10","c":"Fibroblasts","z":0.35},{"m":"Module_10","c":"Hepatocytes","z":-0.2},{"m":"Module_10","c":"Inhibitory neurons","z":2.0},{"m":"Module_10","c":"Intercalated cells","z":-1.95},{"m":"Module_10","c":"Kupffer cells","z":-0.7},{"m":"Module_10","c":"Macrophages","z":-0.35},{"m":"Module_10","c":"Mesothelial cells","z":0.25},{"m":"Module_10","c":"Microglia","z":0.2},{"m":"Module_10","c":"Oligodendrocyte progenitor cells","z":0.65},{"m":"Module_10","c":"Oligodendrocytes","z":0.45},{"m":"Module_10","c":"Podocytes","z":-0.6},{"m":"Module_10","c":"Principal cells","z":-1.0},{"m":"Module_10","c":"Proximal tubule cells","z":-1.65},{"m":"Module_10","c":"T cells","z":0.08},
{"m":"Module_7","c":"Alveolar type 1 cells","z":0.95},{"m":"Module_7","c":"Alveolar type 2 cells","z":0.35},{"m":"Module_7","c":"Ascending loop of Henle cells","z":0.8},{"m":"Module_7","c":"Astrocytes","z":-0.15},{"m":"Module_7","c":"B cells","z":0.2},{"m":"Module_7","c":"Cholangiocytes","z":-1.55},{"m":"Module_7","c":"Ciliated cells","z":1.85},{"m":"Module_7","c":"Distal convoluted tubule cells","z":-0.25},{"m":"Module_7","c":"Endothelial cells","z":0.2},{"m":"Module_7","c":"Excitatory neurons","z":1.0},{"m":"Module_7","c":"Fibroblasts","z":0.12},{"m":"Module_7","c":"Hepatocytes","z":-1.1},{"m":"Module_7","c":"Inhibitory neurons","z":0.2},{"m":"Module_7","c":"Intercalated cells","z":-0.6},{"m":"Module_7","c":"Kupffer cells","z":-0.7},{"m":"Module_7","c":"Macrophages","z":-1.5},{"m":"Module_7","c":"Mesothelial cells","z":2.0},{"m":"Module_7","c":"Microglia","z":-1.45},{"m":"Module_7","c":"Oligodendrocyte progenitor cells","z":0.85},{"m":"Module_7","c":"Oligodendrocytes","z":-0.3},{"m":"Module_7","c":"Podocytes","z":-0.35},{"m":"Module_7","c":"Principal cells","z":-0.5},{"m":"Module_7","c":"Proximal tubule cells","z":-0.45},{"m":"Module_7","c":"T cells","z":-0.4},
{"m":"Module_23","c":"Alveolar type 1 cells","z":-0.02},{"m":"Module_23","c":"Alveolar type 2 cells","z":0.5},{"m":"Module_23","c":"Ascending loop of Henle cells","z":1.85},{"m":"Module_23","c":"Astrocytes","z":-0.03},{"m":"Module_23","c":"B cells","z":-0.2},{"m":"Module_23","c":"Cholangiocytes","z":-1.2},{"m":"Module_23","c":"Ciliated cells","z":-1.0},{"m":"Module_23","c":"Distal convoluted tubule cells","z":-0.08},{"m":"Module_23","c":"Endothelial cells","z":-0.95},{"m":"Module_23","c":"Excitatory neurons","z":1.8},{"m":"Module_23","c":"Fibroblasts","z":-0.1},{"m":"Module_23","c":"Hepatocytes","z":-0.75},{"m":"Module_23","c":"Inhibitory neurons","z":1.1},{"m":"Module_23","c":"Intercalated cells","z":2.0},{"m":"Module_23","c":"Kupffer cells","z":-0.7},{"m":"Module_23","c":"Macrophages","z":-0.7},{"m":"Module_23","c":"Mesothelial cells","z":0.5},{"m":"Module_23","c":"Microglia","z":-1.1},{"m":"Module_23","c":"Oligodendrocyte progenitor cells","z":-1.5},{"m":"Module_23","c":"Oligodendrocytes","z":-0.65},{"m":"Module_23","c":"Podocytes","z":-0.06},{"m":"Module_23","c":"Principal cells","z":0.35},{"m":"Module_23","c":"Proximal tubule cells","z":0.55},{"m":"Module_23","c":"T cells","z":-0.03},
{"m":"Module_2","c":"Alveolar type 1 cells","z":0.3},{"m":"Module_2","c":"Alveolar type 2 cells","z":0.4},{"m":"Module_2","c":"Ascending loop of Henle cells","z":-0.85},{"m":"Module_2","c":"Astrocytes","z":0.95},{"m":"Module_2","c":"B cells","z":1.35},{"m":"Module_2","c":"Cholangiocytes","z":0.2},{"m":"Module_2","c":"Ciliated cells","z":0.5},{"m":"Module_2","c":"Distal convoluted tubule cells","z":-0.9},{"m":"Module_2","c":"Endothelial cells","z":0.25},{"m":"Module_2","c":"Excitatory neurons","z":0.4},{"m":"Module_2","c":"Fibroblasts","z":-0.65},{"m":"Module_2","c":"Hepatocytes","z":0.25},{"m":"Module_2","c":"Inhibitory neurons","z":0.3},{"m":"Module_2","c":"Intercalated cells","z":-0.2},{"m":"Module_2","c":"Kupffer cells","z":0.4},{"m":"Module_2","c":"Macrophages","z":-1.15},{"m":"Module_2","c":"Mesothelial cells","z":-0.2},{"m":"Module_2","c":"Microglia","z":-2.0},{"m":"Module_2","c":"Oligodendrocyte progenitor cells","z":-0.05},{"m":"Module_2","c":"Oligodendrocytes","z":2.0},{"m":"Module_2","c":"Podocytes","z":0.7},{"m":"Module_2","c":"Principal cells","z":-0.85},{"m":"Module_2","c":"Proximal tubule cells","z":-1.55},{"m":"Module_2","c":"T cells","z":-0.6},
{"m":"Module_13","c":"Alveolar type 1 cells","z":-0.15},{"m":"Module_13","c":"Alveolar type 2 cells","z":0.65},{"m":"Module_13","c":"Ascending loop of Henle cells","z":-0.55},{"m":"Module_13","c":"Astrocytes","z":1.1},{"m":"Module_13","c":"B cells","z":1.2},{"m":"Module_13","c":"Cholangiocytes","z":-1.1},{"m":"Module_13","c":"Ciliated cells","z":0.08},{"m":"Module_13","c":"Distal convoluted tubule cells","z":-0.95},{"m":"Module_13","c":"Endothelial cells","z":0.25},{"m":"Module_13","c":"Excitatory neurons","z":0.75},{"m":"Module_13","c":"Fibroblasts","z":0.3},{"m":"Module_13","c":"Hepatocytes","z":-1.2},{"m":"Module_13","c":"Inhibitory neurons","z":1.9},{"m":"Module_13","c":"Intercalated cells","z":-1.4},{"m":"Module_13","c":"Kupffer cells","z":-0.25},{"m":"Module_13","c":"Macrophages","z":0.08},{"m":"Module_13","c":"Mesothelial cells","z":1.05},{"m":"Module_13","c":"Microglia","z":-0.55},{"m":"Module_13","c":"Oligodendrocyte progenitor cells","z":2.0},{"m":"Module_13","c":"Oligodendrocytes","z":-0.15},{"m":"Module_13","c":"Podocytes","z":-0.8},{"m":"Module_13","c":"Principal cells","z":-0.85},{"m":"Module_13","c":"Proximal tubule cells","z":-1.55},{"m":"Module_13","c":"T cells","z":-0.15},
{"m":"Module_14","c":"Alveolar type 1 cells","z":0.08},{"m":"Module_14","c":"Alveolar type 2 cells","z":0.7},{"m":"Module_14","c":"Ascending loop of Henle cells","z":-0.7},{"m":"Module_14","c":"Astrocytes","z":-1.3},{"m":"Module_14","c":"B cells","z":1.15},{"m":"Module_14","c":"Cholangiocytes","z":0.95},{"m":"Module_14","c":"Ciliated cells","z":1.65},{"m":"Module_14","c":"Distal convoluted tubule cells","z":-1.1},{"m":"Module_14","c":"Endothelial cells","z":1.3},{"m":"Module_14","c":"Excitatory neurons","z":0.25},{"m":"Module_14","c":"Fibroblasts","z":0.45},{"m":"Module_14","c":"Hepatocytes","z":0.55},{"m":"Module_14","c":"Inhibitory neurons","z":0.2},{"m":"Module_14","c":"Intercalated cells","z":-1.25},{"m":"Module_14","c":"Kupffer cells","z":1.25},{"m":"Module_14","c":"Macrophages","z":0.85},{"m":"Module_14","c":"Mesothelial cells","z":0.75},{"m":"Module_14","c":"Microglia","z":-0.55},{"m":"Module_14","c":"Oligodendrocyte progenitor cells","z":-1.45},{"m":"Module_14","c":"Oligodendrocytes","z":-1.25},{"m":"Module_14","c":"Podocytes","z":-1.15},{"m":"Module_14","c":"Principal cells","z":-0.85},{"m":"Module_14","c":"Proximal tubule cells","z":-1.15},{"m":"Module_14","c":"T cells","z":-0.02},
{"m":"Module_8","c":"Alveolar type 1 cells","z":0.3},{"m":"Module_8","c":"Alveolar type 2 cells","z":-0.25},{"m":"Module_8","c":"Ascending loop of Henle cells","z":-0.15},{"m":"Module_8","c":"Astrocytes","z":-1.25},{"m":"Module_8","c":"B cells","z":2.0},{"m":"Module_8","c":"Cholangiocytes","z":-0.03},{"m":"Module_8","c":"Ciliated cells","z":0.12},{"m":"Module_8","c":"Distal convoluted tubule cells","z":-0.9},{"m":"Module_8","c":"Endothelial cells","z":1.05},{"m":"Module_8","c":"Excitatory neurons","z":-0.08},{"m":"Module_8","c":"Fibroblasts","z":-0.8},{"m":"Module_8","c":"Hepatocytes","z":-0.05},{"m":"Module_8","c":"Inhibitory neurons","z":0.2},{"m":"Module_8","c":"Intercalated cells","z":-0.75},{"m":"Module_8","c":"Kupffer cells","z":0.8},{"m":"Module_8","c":"Macrophages","z":0.1},{"m":"Module_8","c":"Mesothelial cells","z":-0.06},{"m":"Module_8","c":"Microglia","z":-0.05},{"m":"Module_8","c":"Oligodendrocyte progenitor cells","z":-0.85},{"m":"Module_8","c":"Oligodendrocytes","z":-1.2},{"m":"Module_8","c":"Podocytes","z":0.3},{"m":"Module_8","c":"Principal cells","z":-0.45},{"m":"Module_8","c":"Proximal tubule cells","z":-1.15},{"m":"Module_8","c":"T cells","z":1.45},
{"m":"Module_28","c":"Alveolar type 1 cells","z":-0.35},{"m":"Module_28","c":"Alveolar type 2 cells","z":0.25},{"m":"Module_28","c":"Ascending loop of Henle cells","z":1.7},{"m":"Module_28","c":"Astrocytes","z":1.85},{"m":"Module_28","c":"B cells","z":0.2},{"m":"Module_28","c":"Cholangiocytes","z":0.3},{"m":"Module_28","c":"Ciliated cells","z":-0.2},{"m":"Module_28","c":"Distal convoluted tubule cells","z":0.12},{"m":"Module_28","c":"Endothelial cells","z":-0.7},{"m":"Module_28","c":"Excitatory neurons","z":0.25},{"m":"Module_28","c":"Fibroblasts","z":0.3},{"m":"Module_28","c":"Hepatocytes","z":0.4},{"m":"Module_28","c":"Inhibitory neurons","z":-0.5},{"m":"Module_28","c":"Intercalated cells","z":-0.08},{"m":"Module_28","c":"Kupffer cells","z":0.35},{"m":"Module_28","c":"Macrophages","z":0.3},{"m":"Module_28","c":"Mesothelial cells","z":-0.15},{"m":"Module_28","c":"Microglia","z":-2.0},{"m":"Module_28","c":"Oligodendrocyte progenitor cells","z":1.8},{"m":"Module_28","c":"Oligodendrocytes","z":-1.75},{"m":"Module_28","c":"Podocytes","z":0.08},{"m":"Module_28","c":"Principal cells","z":-0.3},{"m":"Module_28","c":"Proximal tubule cells","z":-1.4},{"m":"Module_28","c":"T cells","z":-0.03}
]},
"layer":[
{"mark":{"type":"rect","stroke":"white","strokeWidth":3},
"encoding":{
"x":{"field":"c","type":"nominal","sort":null,"scale":{"paddingInner":0,"paddingOuter":0},"axis":{"title":"Cell Type","titleFont":"DejaVu Sans","titleFontSize":25,"titleFontWeight":"bold","titleColor":"black","titleY":296.5,"titleBaseline":"alphabetic","labelFont":"DejaVu Sans","labelFontSize":20.8,"labelColor":"black","labelAngle":-45,"labelAlign":"right","labelBaseline":"top","labelPadding":8,"labelOffset":-15,"labelLimit":0,"labelOverlap":false,"domain":false,"tickSize":7,"tickWidth":1.5,"tickColor":"#262626","grid":false}},
"y":{"field":"m","type":"nominal","sort":null,"scale":{"paddingInner":0,"paddingOuter":0},"axis":{"title":"Module","titleFont":"DejaVu Sans","titleFontSize":25,"titleFontWeight":"bold","titleColor":"black","titleX":-139.5,"titleY":559.5,"titleBaseline":"alphabetic","labelFont":"DejaVu Sans","labelFontSize":20.8,"labelColor":"black","labelPadding":9,"labelOverlap":false,"domain":false,"tickSize":7,"tickWidth":1.5,"tickColor":"#262626","grid":false}},
"color":{"field":"z","type":"quantitative","scale":{"domain":[-2,-1.6,-1.2,-0.8,-0.4,0,0.4,0.8,1.2,1.6,2],"range":["#053061","#2166ac","#4393c3","#92c5de","#d1e5f0","#f7f7f7","#fddbc7","#f4a582","#d6604d","#b2182b","#67001f"],"clamp":true},"legend":{"title":null,"orient":"none","legendX":1607.5,"legendY":111.5,"direction":"vertical","type":"gradient","gradientLength":890,"gradientThickness":45,"gradientStrokeWidth":0,"values":[-2,-1.5,-1,-0.5,0,0.5,1,1.5,2],"format":".1f","labelFont":"DejaVu Sans","labelFontSize":20.8,"labelColor":"black","labelOffset":15,"encoding":{"labels":{"baseline":{"value":"middle"}}}}}
}},
{"mark":{"type":"point","opacity":0},
"encoding":{"y":{"field":"z","type":"quantitative","scale":{"domain":[-2.5066,2.5007],"nice":false,"zero":false},"axis":{"orient":"right","offset":138.5,"title":"Z-score","titleFont":"DejaVu Sans","titleFontSize":20.8,"titleFontWeight":"normal","titleColor":"black","titleAngle":-90,"titleX":89,"titleY":557.5,"titleBaseline":"alphabetic","titleAlign":"center","values":[-2,-1.5,-1,-0.5,0,0.5,1,1.5,2],"labels":false,"domain":false,"grid":false,"tickSize":7,"tickWidth":1.5,"tickColor":"#262626"}}}}
],
"resolve":{"scale":{"y":"independent"},"axis":{"y":"independent"}}
}
